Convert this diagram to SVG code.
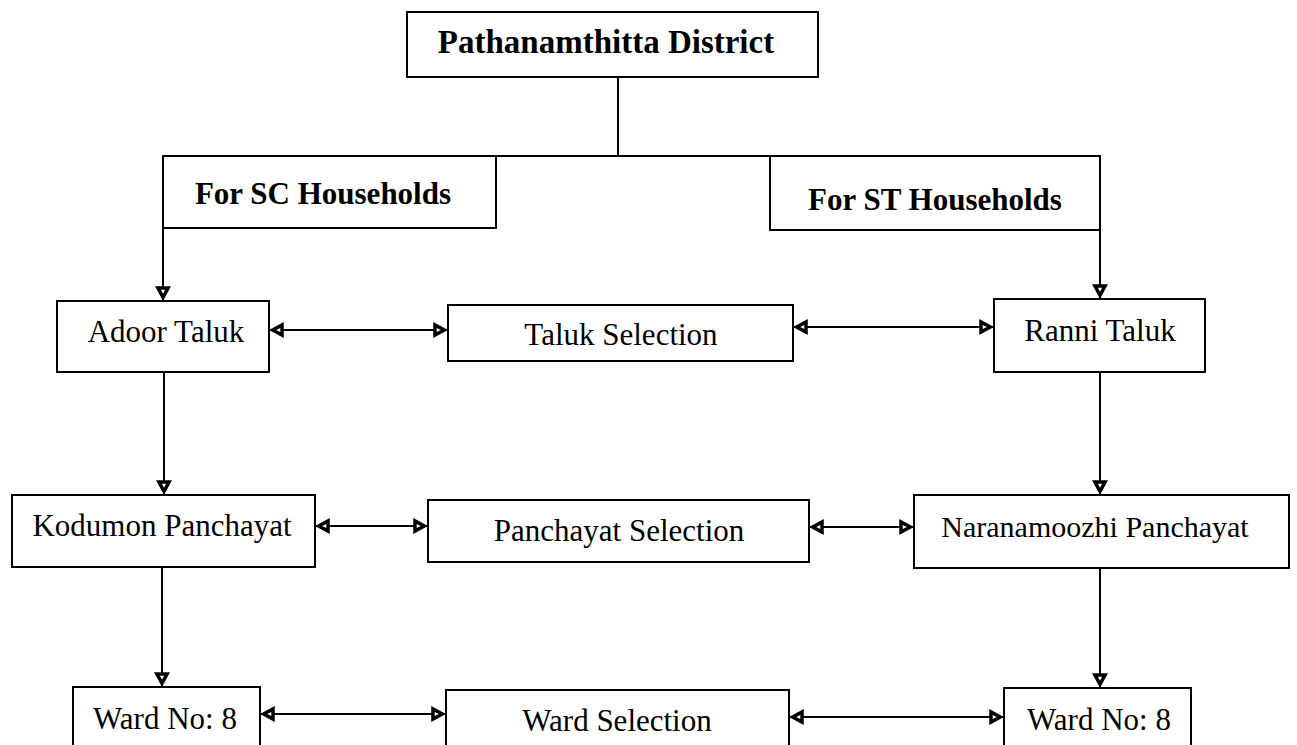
<svg xmlns="http://www.w3.org/2000/svg" width="1297" height="745" viewBox="0 0 1297 745">
<style>
.box{fill:#fff;stroke:#000;stroke-width:2}
.t{font-family:"Liberation Serif","Times New Roman",serif;font-size:31px;fill:#000;text-anchor:middle}
.b{font-weight:bold}
.c{fill:none;stroke:#000;stroke-width:2}
</style>
<defs>
<marker id="ah" markerUnits="userSpaceOnUse" markerWidth="16" markerHeight="16" refX="12" refY="6.5" orient="auto-start-reverse" viewBox="0 0 13 13">
<path d="M0,0 L12,6.5 L0,13 Z" fill="#000"/>
<path d="M2.8,4.8 L6.2,6.5 L2.8,8.2 Z" fill="#fff"/>
</marker>
</defs>
<rect width="1297" height="745" fill="#fff"/>
<g id="connectors">
<line class="c" x1="618" y1="77" x2="618" y2="156"/>
<line class="c" x1="496" y1="156" x2="770" y2="156"/>
<line class="c" x1="163" y1="228" x2="163" y2="301" marker-end="url(#ah)"/>
<line class="c" x1="1100" y1="230" x2="1100" y2="299" marker-end="url(#ah)"/>
<line class="c" x1="269" y1="330" x2="448" y2="330" marker-start="url(#ah)" marker-end="url(#ah)"/>
<line class="c" x1="793" y1="327" x2="994" y2="327" marker-start="url(#ah)" marker-end="url(#ah)"/>
<line class="c" x1="164" y1="373" x2="164" y2="495" marker-end="url(#ah)"/>
<line class="c" x1="1100" y1="372" x2="1100" y2="495" marker-end="url(#ah)"/>
<line class="c" x1="315" y1="526" x2="428" y2="526" marker-start="url(#ah)" marker-end="url(#ah)"/>
<line class="c" x1="809" y1="527" x2="914" y2="527" marker-start="url(#ah)" marker-end="url(#ah)"/>
<line class="c" x1="162" y1="567" x2="162" y2="687" marker-end="url(#ah)"/>
<line class="c" x1="1100" y1="568" x2="1100" y2="688" marker-end="url(#ah)"/>
<line class="c" x1="260" y1="714" x2="446" y2="714" marker-start="url(#ah)" marker-end="url(#ah)"/>
<line class="c" x1="789" y1="717" x2="1004" y2="717" marker-start="url(#ah)" marker-end="url(#ah)"/>
</g>
<g id="district">
<rect class="box" x="407" y="12" width="411" height="65"/>
<text class="t b" x="606" y="53" style="font-size:33px">Pathanamthitta District</text>
</g>
<g id="sc">
<rect class="box" x="163" y="156" width="333" height="72"/>
<text class="t b" x="323" y="204">For SC Households</text>
</g>
<g id="st">
<rect class="box" x="770" y="156" width="330" height="74"/>
<text class="t b" x="935" y="210">For ST Households</text>
</g>
<g id="adoor">
<rect class="box" x="57" y="301" width="212" height="71"/>
<text class="t" x="166" y="342">Adoor Taluk</text>
</g>
<g id="taluksel">
<rect class="box" x="448" y="305" width="345" height="56"/>
<text class="t" x="621" y="345">Taluk Selection</text>
</g>
<g id="ranni">
<rect class="box" x="994" y="299" width="211" height="73"/>
<text class="t" x="1100" y="341">Ranni Taluk</text>
</g>
<g id="kodumon">
<rect class="box" x="12" y="495" width="303" height="72"/>
<text class="t" x="162" y="536">Kodumon Panchayat</text>
</g>
<g id="panchsel">
<rect class="box" x="428" y="500" width="381" height="62"/>
<text class="t" x="619" y="541">Panchayat Selection</text>
</g>
<g id="naranamoozhi">
<rect class="box" x="914" y="495" width="375" height="73"/>
<text class="t" x="1095" y="537" style="font-size:30px">Naranamoozhi Panchayat</text>
</g>
<g id="ward1">
<rect class="box" x="73" y="687" width="187" height="80"/>
<text class="t" x="165" y="729">Ward No: 8</text>
</g>
<g id="wardsel">
<rect class="box" x="446" y="690" width="343" height="80"/>
<text class="t" x="617" y="731">Ward Selection</text>
</g>
<g id="ward2">
<rect class="box" x="1004" y="688" width="187" height="80"/>
<text class="t" x="1099" y="730">Ward No: 8</text>
</g>
</svg>
